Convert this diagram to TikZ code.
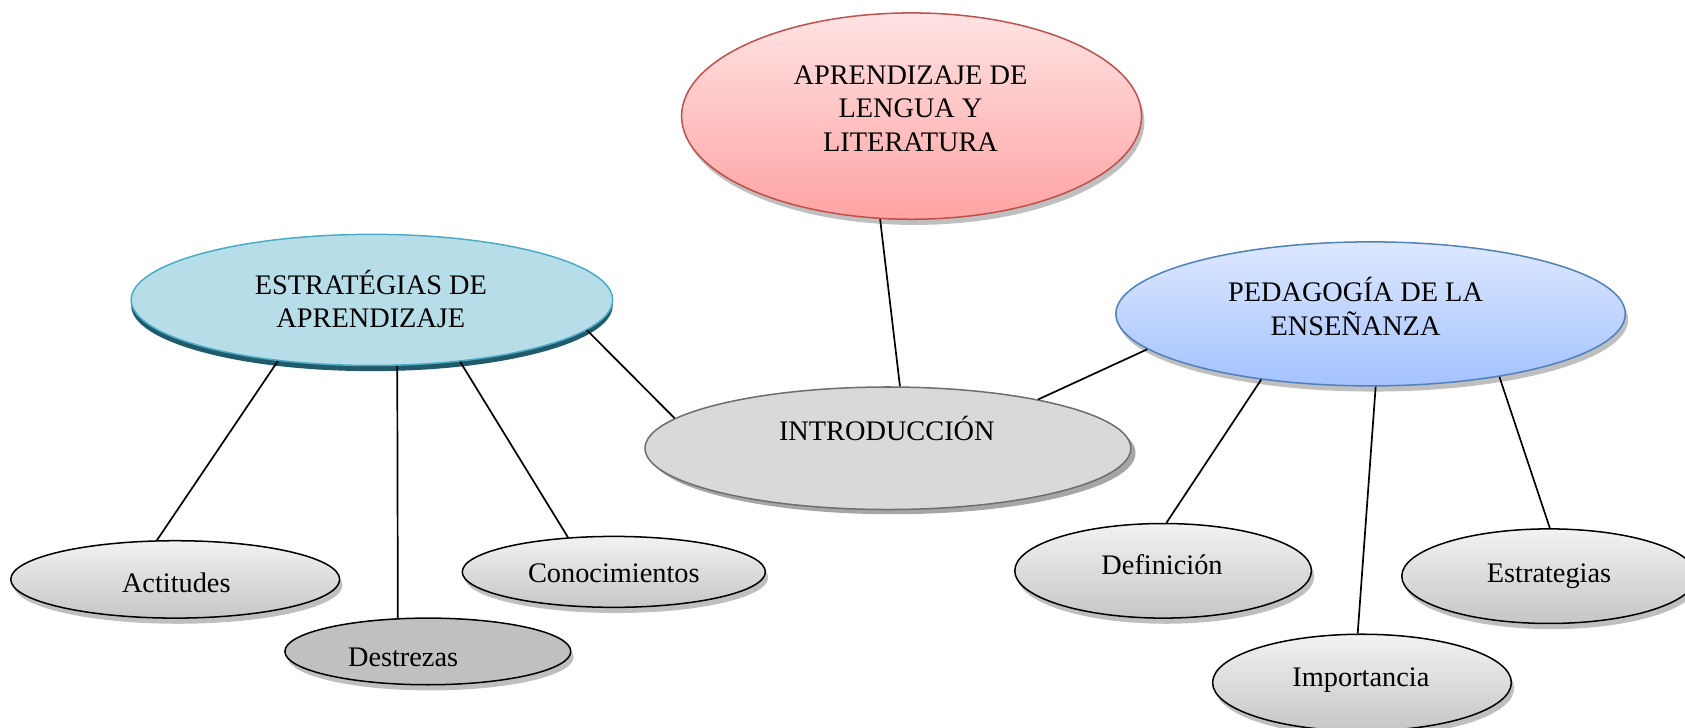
\documentclass[tikz,border=0pt]{standalone}
\usepackage{fontspec}
\setmainfont{Liberation Serif}
\usetikzlibrary{shapes.geometric,shadows}
\definecolor{redTop}{HTML}{FFE3E3}
\definecolor{redBot}{HTML}{FFA3A3}
\definecolor{redLine}{HTML}{C0504D}
\definecolor{tealFill}{HTML}{B7DEE8}
\definecolor{tealLine}{HTML}{4BACC6}
\definecolor{tealDark}{HTML}{215A6A}
\definecolor{blueTop}{HTML}{DDE8FF}
\definecolor{blueBot}{HTML}{A4C2FF}
\definecolor{blueLine}{HTML}{4F81BD}
\definecolor{introFill}{HTML}{D9D9D9}
\definecolor{introLine}{HTML}{6E6E6E}
\definecolor{leafTop}{HTML}{F2F2F2}
\definecolor{leafBot}{HTML}{C6C6C6}
\definecolor{desFill}{HTML}{C0C0C0}
\begin{document}
\begin{tikzpicture}[x=0.02cm,y=-0.02cm,
  bubble/.style={ellipse, inner sep=0pt, line width=0.8pt},
  softshadow/.style={drop shadow={shadow xshift=1.5pt, shadow yshift=-3pt, opacity=0.25, fill=black}},
  leaf/.style={bubble, draw=black, top color=leafTop, bottom color=leafBot, softshadow},
  txt/.style={font=\fontsize{15}{17.8}\selectfont, align=center, inner sep=0pt},
  onetxt/.style={txt, text height=0.66em, text depth=0pt},
  link/.style={draw=black, line width=0.9pt}]
\path[use as bounding box] (0,0) rectangle (1567.5,677.2);

% main bubbles
\node[bubble, draw=redLine, top color=redTop, bottom color=redBot, softshadow,
      minimum width=8.56cm, minimum height=3.84cm] (red) at (848,108) {};
\node[bubble, draw=tealLine, fill=tealFill,
      drop shadow={shadow xshift=0pt, shadow yshift=-3pt, opacity=1, fill=tealDark},
      minimum width=8.96cm, minimum height=2.44cm] (teal) at (346,279) {};
\node[bubble, draw=blueLine, top color=blueTop, bottom color=blueBot, softshadow,
      minimum width=9.48cm, minimum height=2.68cm] (blue) at (1275,292) {};
\node[bubble, draw=introLine, fill=introFill,
      drop shadow={shadow xshift=2.5pt, shadow yshift=-2.5pt, opacity=0.35, fill=black},
      minimum width=9.04cm, minimum height=2.28cm] (intro) at (826,417) {};

% leaves
\node[leaf, minimum width=6.12cm, minimum height=1.44cm] (act) at (163,539) {};
\node[leaf, top color=desFill, bottom color=desFill, minimum width=5.32cm, minimum height=1.24cm] (des) at (398,606) {};
\node[leaf, minimum width=5.64cm, minimum height=1.32cm] (con) at (571,532) {};
\node[leaf, minimum width=5.52cm, minimum height=1.76cm] (def) at (1082,531) {};
\node[leaf, minimum width=5.48cm, minimum height=1.76cm] (est) at (1441,536) {};
\node[leaf, minimum width=5.56cm, minimum height=1.80cm] (imp) at (1267,635) {};

% texts
\node[txt] (redt) at (847,101) {APRENDIZAJE DE\\LENGUA Y\\LITERATURA};
\node[txt] (tealt) at (345,278) {ESTRATÉGIAS DE\\APRENDIZAJE};
\node[txt] (bluet) at (1261,285) {PEDAGOGÍA DE LA\\ENSEÑANZA};
\node[onetxt] (introt) at (825,404) {INTRODUCCIÓN};
\node[onetxt] (actt) at (164,545) {Actitudes};
\node[onetxt] (dest) at (375,614) {Destrezas};
\node[onetxt] (cont) at (571,536) {Conocimientos};
\node[onetxt] (deft) at (1081,529) {Definición};
\node[onetxt] (estt) at (1441,536) {Estrategias};
\node[onetxt] (impt) at (1266,633) {Importancia};

% connectors
\draw[link] (red.253) -- (intro.79);
\draw[link] (teal.352) -- (intro.172);
\draw[link] (blue.189) -- (intro.18);
\draw[link] (teal.213) -- (act.115);
\draw[link] (teal.291) -- (des.132);
\draw[link] (teal.325) -- (con.143);
\draw[link] (blue.211) -- (def.86);
\draw[link] (blue.274) -- (imp.95);
\draw[link] (blue.334) -- (est.89);
\end{tikzpicture}
\end{document}
